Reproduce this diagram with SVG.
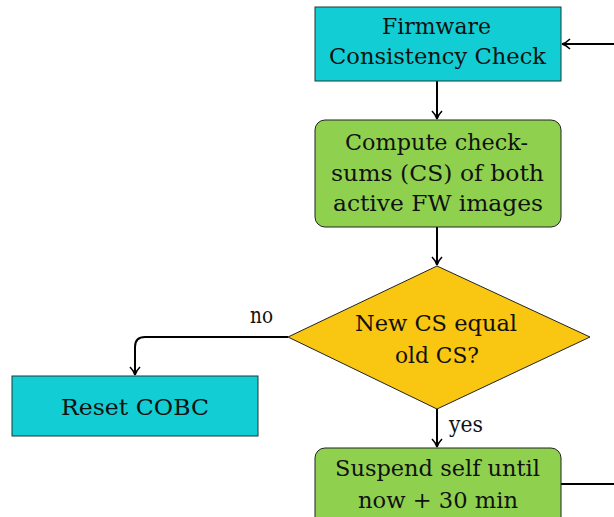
<svg xmlns="http://www.w3.org/2000/svg" width="614" height="517" viewBox="0 0 614 517">
<style>
.t{font-size:23px;fill:#111;text-anchor:middle}
.cy{fill:#12CDD4;stroke:#1a3a3a;stroke-width:1}
.gr{fill:#8FD14F;stroke:#222;stroke-width:1}
.ye{fill:#F9C612;stroke:#222;stroke-width:1}
.ln{fill:none;stroke:#000;stroke-width:2}
</style>
<defs>
<marker id="ar" markerWidth="12" markerHeight="12" refX="10" refY="6" orient="auto" markerUnits="userSpaceOnUse">
<path d="M2,1 Q6,5 10,6 Q6,7 2,11" fill="none" stroke="#000" stroke-width="1.6"/>
</marker>
</defs>
<g id="connectors">
<path class="ln" d="M437,81 V119" marker-end="url(#ar)"/>
<path class="ln" d="M437,227 V265" marker-end="url(#ar)"/>
<path class="ln" d="M288,337 H145 Q135,337 135,347 V375" marker-end="url(#ar)"/>
<path class="ln" d="M437,409 V447" marker-end="url(#ar)"/>
<path class="ln" d="M561,484 H616 V44 H562" marker-end="url(#ar)"/>
<text class="t" font-family="DejaVu Serif" x="261.5" y="323" textLength="23" lengthAdjust="spacingAndGlyphs">no</text>
<text class="t" font-family="DejaVu Serif" x="466" y="432" textLength="34" lengthAdjust="spacingAndGlyphs">yes</text>
</g>
<g id="firmware">
<rect class="cy" x="315" y="7" width="246" height="74"/>
<text class="t" font-family="DejaVu Serif" x="436.5" y="34" textLength="109" lengthAdjust="spacingAndGlyphs">Firmware</text>
<text class="t" font-family="DejaVu Serif" x="437.5" y="64" textLength="217" lengthAdjust="spacingAndGlyphs">Consistency Check</text>
</g>
<g id="compute">
<rect class="gr" x="315" y="120" width="246" height="107" rx="10"/>
<text class="t" font-family="DejaVu Serif" x="436.5" y="150" textLength="183" lengthAdjust="spacingAndGlyphs">Compute check-</text>
<text class="t" font-family="DejaVu Serif" x="437.5" y="181" textLength="213" lengthAdjust="spacingAndGlyphs">sums (CS) of both</text>
<text class="t" font-family="DejaVu Serif" x="438" y="211" textLength="210" lengthAdjust="spacingAndGlyphs">active FW images</text>
</g>
<g id="decision">
<polygon class="ye" points="437,266 590,337 437,409 288,337"/>
<text class="t" font-family="DejaVu Serif" x="436" y="331" textLength="162" lengthAdjust="spacingAndGlyphs">New CS equal</text>
<text class="t" font-family="DejaVu Serif" x="437" y="363" textLength="84" lengthAdjust="spacingAndGlyphs">old CS?</text>
</g>
<g id="reset">
<rect class="cy" x="12" y="376" width="246" height="60"/>
<text class="t" font-family="DejaVu Serif" x="135" y="415" textLength="148" lengthAdjust="spacingAndGlyphs">Reset COBC</text>
</g>
<g id="suspend">
<rect class="gr" x="315" y="448" width="246" height="80" rx="10"/>
<text class="t" font-family="DejaVu Serif" x="437.5" y="476" textLength="205" lengthAdjust="spacingAndGlyphs">Suspend self until</text>
<text class="t" font-family="DejaVu Serif" x="438" y="508" textLength="160" lengthAdjust="spacingAndGlyphs">now + 30 min</text>
</g>
</svg>
